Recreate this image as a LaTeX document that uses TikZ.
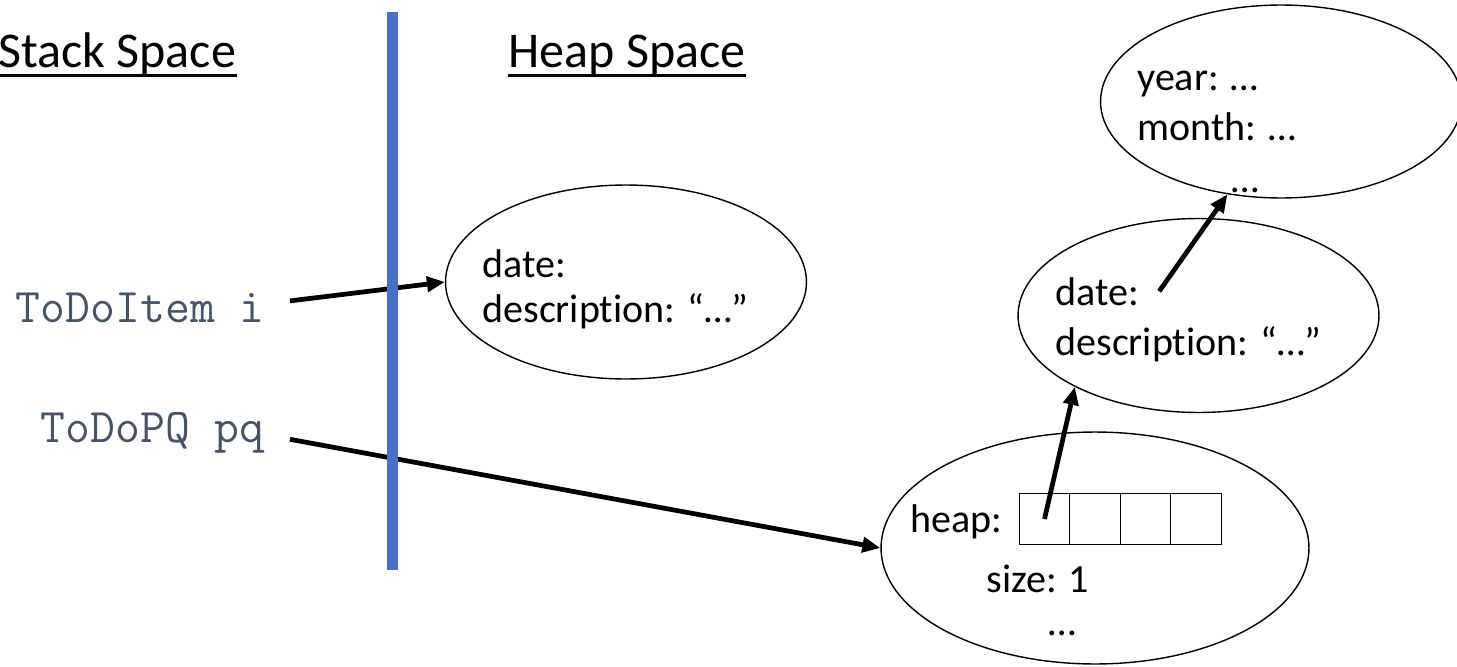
\documentclass[tikz,border=0pt]{standalone}
\usepackage{fontspec}
\setmainfont{Carlito}[Ligatures=NoCommon]
\usetikzlibrary{positioning,shapes.geometric,arrows.meta}
\definecolor{divblue}{HTML}{4472C4}
\definecolor{slate}{HTML}{44546A}
\tikzstyle{object}=[ellipse, draw=black, line width=0.8pt, inner sep=0pt, minimum width=7.22cm, minimum height=3.88cm]
\tikzstyle{field}=[inner sep=0pt, anchor=base west, font=\fontsize{22.8}{28}\selectfont]
\tikzstyle{heading}=[inner sep=0pt, anchor=base west, font=\fontsize{28.5}{34}\selectfont]
\tikzstyle{localvar}=[inner sep=0pt, inner xsep=0.5cm, anchor=base east, text=slate, font=\fontsize{27.5}{33}\selectfont\ttfamily]
\tikzstyle{cell}=[rectangle, draw=black, line width=0.8pt, minimum size=1.01cm, inner sep=0pt, outer sep=0pt]

\begin{document}
\begin{tikzpicture}[
        x=0.02cm, y=-0.02cm,
        pointer/.style={-{Triangle[length=0.36cm,width=0.3cm]}, line width=2.7pt},
        underline/.style={line width=1.7pt},
      ]
      \useasboundingbox (0,0) rectangle (1457,666);

      % headings
      \node (stack) [heading] at (-2,67) {Stack Space};
      \node (heap) [heading] at (508,67) {Heap Space};
      \draw [underline] ([yshift=-0.17cm]stack.base west) -- ([yshift=-0.17cm]stack.base east);
      \draw [underline] ([yshift=-0.17cm]heap.base west) -- ([yshift=-0.17cm]heap.base east);

      % local variables
      \node (itemvar) [localvar] at (290,322) {ToDoItem i};
      \node (pqvar) [localvar] at (290,442) {ToDoPQ pq};

      % the todo item
      \node (itemobj) [object] at (626,282) {};
      \node (itemdate) [field] at (482,277) {date:};
      \node (itemdesc) [field] at (482,322) {description: “…”};

      % the priority queue
      \node (pqobj) [object, minimum width=8.56cm, minimum height=4.64cm] at (1095,548) {};
      \node (heaplbl) [field] at (910,532) {heap:};
      \node (cell0) [cell] at (1044.5,519) {};
      \node (cell1) [cell, right=0pt of cell0] {};
      \node (cell2) [cell, right=0pt of cell1] {};
      \node (cell3) [cell, right=0pt of cell2] {};
      \node (sizelbl) [field] at (986,592) {size: 1};
      \node (pqmore) [field, anchor=base] at (1062,635) {…};

      % item stored in the heap
      \node (entry) [object] at (1198.5,315.5) {};
      \node (entrydate) [field] at (1055,305) {date:};
      \node (entrydesc) [field] at (1055,355) {description: “…”};

      % its date
      \node (dateobj) [object, minimum height=3.86cm] at (1281,101.5) {};
      \node (year) [field] at (1137,90) {year: …};
      \node (month) [field] at (1137,140) {month: …};
      \node (datemore) [field, anchor=base] at (1245,192) {…};

      \draw [pointer] ([yshift=0.13cm]itemvar.east) to (itemobj.west);
      \draw [pointer] ([yshift=-0.14cm]pqvar.east) to (pqobj.west);
      \draw [pointer] (cell0.center) to (entry.210);
      \draw [pointer] ([xshift=0.4cm]entrydate.east) to (dateobj.240);

      % stack / heap divider
      \coordinate (divtop) at (392.5,12);
      \coordinate (divbot) at (392.5,570);
      \draw [divblue, line width=0.22cm] (divtop) -- (divbot);
    \end{tikzpicture}
\end{document}
